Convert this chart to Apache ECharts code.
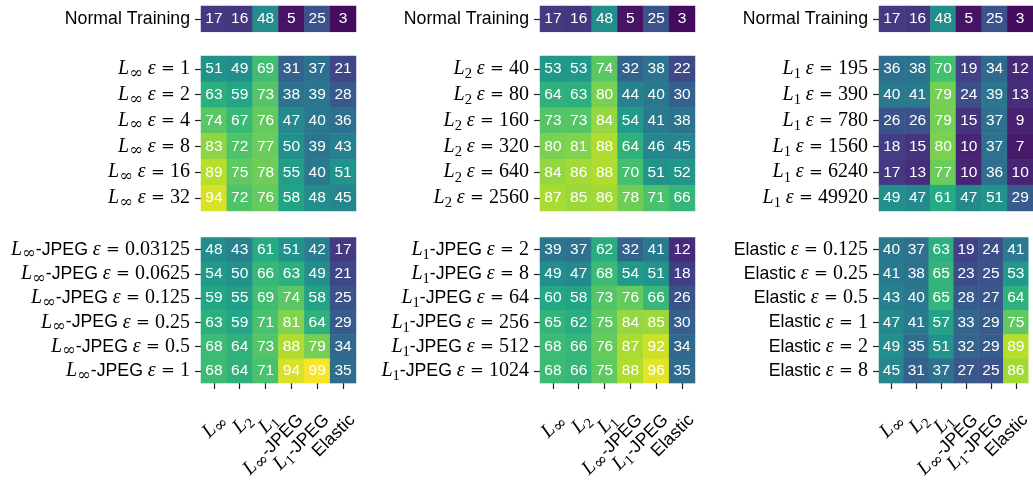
<!DOCTYPE html>
<html>
<head>
<meta charset="utf-8">
<script src="https://cdn.jsdelivr.net/npm/echarts@6/dist/echarts.min.js"></script>
<style>html,body{margin:0;padding:0;background:#fff}#c{width:1033px;height:483px}</style>
</head>
<body>
<div id="c"></div>
<script>
// ---- data ----
const xLabels = ['L_∞', 'L_2', 'L_1', 'L_∞-JPEG', 'L_1-JPEG', 'Elastic'];

const normalLabels = ['Normal Training'];
const normalValues = [[17, 16, 48, 5, 25, 3]];

const linfLabels = ['L_∞ ε = 1', 'L_∞ ε = 2', 'L_∞ ε = 4', 'L_∞ ε = 8', 'L_∞ ε = 16', 'L_∞ ε = 32'];
const linfValues = [
  [51, 49, 69, 31, 37, 21],
  [63, 59, 73, 38, 39, 28],
  [74, 67, 76, 47, 40, 36],
  [83, 72, 77, 50, 39, 43],
  [89, 75, 78, 55, 40, 51],
  [94, 72, 76, 58, 48, 45]
];

const linfJpegLabels = ['L_∞-JPEG ε = 0.03125', 'L_∞-JPEG ε = 0.0625', 'L_∞-JPEG ε = 0.125', 'L_∞-JPEG ε = 0.25', 'L_∞-JPEG ε = 0.5', 'L_∞-JPEG ε = 1'];
const linfJpegValues = [
  [48, 43, 61, 51, 42, 17],
  [54, 50, 66, 63, 49, 21],
  [59, 55, 69, 74, 58, 25],
  [63, 59, 71, 81, 64, 29],
  [68, 64, 73, 88, 79, 34],
  [68, 64, 71, 94, 99, 35]
];

const l2Labels = ['L_2 ε = 40', 'L_2 ε = 80', 'L_2 ε = 160', 'L_2 ε = 320', 'L_2 ε = 640', 'L_2 ε = 2560'];
const l2Values = [
  [53, 53, 74, 32, 38, 22],
  [64, 63, 80, 44, 40, 30],
  [73, 73, 84, 54, 41, 38],
  [80, 81, 88, 64, 46, 45],
  [84, 86, 88, 70, 51, 52],
  [87, 85, 86, 78, 71, 66]
];

const l1JpegLabels = ['L_1-JPEG ε = 2', 'L_1-JPEG ε = 8', 'L_1-JPEG ε = 64', 'L_1-JPEG ε = 256', 'L_1-JPEG ε = 512', 'L_1-JPEG ε = 1024'];
const l1JpegValues = [
  [39, 37, 62, 32, 41, 12],
  [49, 47, 68, 54, 51, 18],
  [60, 58, 73, 76, 66, 26],
  [65, 62, 75, 84, 85, 30],
  [68, 66, 76, 87, 92, 34],
  [68, 66, 75, 88, 96, 35]
];

const l1Labels = ['L_1 ε = 195', 'L_1 ε = 390', 'L_1 ε = 780', 'L_1 ε = 1560', 'L_1 ε = 6240', 'L_1 ε = 49920'];
const l1Values = [
  [36, 38, 70, 19, 34, 12],
  [40, 41, 79, 24, 39, 13],
  [26, 26, 79, 15, 37, 9],
  [18, 15, 80, 10, 37, 7],
  [17, 13, 77, 10, 36, 10],
  [49, 47, 61, 47, 51, 29]
];

const elasticLabels = ['Elastic ε = 0.125', 'Elastic ε = 0.25', 'Elastic ε = 0.5', 'Elastic ε = 1', 'Elastic ε = 2', 'Elastic ε = 8'];
const elasticValues = [
  [40, 37, 63, 19, 24, 41],
  [41, 38, 65, 23, 25, 53],
  [43, 40, 65, 28, 27, 64],
  [47, 41, 57, 33, 29, 75],
  [49, 35, 51, 32, 29, 89],
  [45, 31, 37, 27, 25, 86]
];

const viridis = ['#440154','#482475','#414487','#355f8d','#2a788e','#21918c','#22a884','#44bf70','#7ad151','#bddf26','#fde725'];

// ---- layout ----
const panels = [
  [[normalLabels, normalValues], [linfLabels, linfValues], [linfJpegLabels, linfJpegValues]],
  [[normalLabels, normalValues], [l2Labels, l2Values], [l1JpegLabels, l1JpegValues]],
  [[normalLabels, normalValues], [l1Labels, l1Values], [elasticLabels, elasticValues]]
];
const LEFTS = [201, 540, 879];
const TOPS = [6, 56, 237.5];
const CELL = 25.83;

const LH = 26;
const rich = {
  sf: {fontFamily: 'Liberation Sans', fontSize: 17.7, color: '#000', lineHeight: LH},
  it: {fontFamily: 'Liberation Serif', fontStyle: 'italic', fontSize: 20, color: '#000', lineHeight: LH},
  sub: {fontFamily: 'Liberation Serif', fontSize: 14.5, color: '#000', verticalAlign: 'bottom', lineHeight: 15},
  inf: {fontFamily: 'DejaVu Serif', fontSize: 16.5, color: '#000', verticalAlign: 'bottom', lineHeight: 13},
  ep: {fontFamily: 'Liberation Serif', fontStyle: 'italic', fontSize: 20, color: '#000', lineHeight: LH},
  eq: {fontFamily: 'DejaVu Serif', fontSize: 16.5, color: '#000', lineHeight: LH},
  rm: {fontFamily: 'Liberation Serif', fontSize: 20, color: '#000', lineHeight: LH}
};
function fmt(s) {
  let out = '', after = false, m;
  const re = /L_(∞|1|2)|ε| = |[^Lε]+?(?= = |$|L|ε)/g;
  while ((m = re.exec(s))) {
    const t = m[0];
    if (t === 'ε') { out += '{ep|ε}'; after = true; }
    else if (t === ' = ') { out += '{eq| = }'; }
    else if (t.startsWith('L_')) { out += '{it|L}{' + (m[1] === '∞' ? 'inf' : 'sub') + '|' + m[1] + '}'; }
    else { out += '{' + (after ? 'rm' : 'sf') + '|' + t + '}'; }
  }
  return out;
}

const grid = [], xAxis = [], yAxis = [], series = [];
panels.forEach((col, c) => {
  col.forEach(([labels, values], b) => {
    const gi = grid.length;
    grid.push({left: LEFTS[c], top: TOPS[b], width: CELL * 6, height: CELL * labels.length});
    xAxis.push({
      type: 'category', gridIndex: gi, data: xLabels,
      axisLine: {show: false}, splitLine: {show: false},
      axisTick: {show: b === 2, alignWithLabel: true, length: 6, lineStyle: {color: '#222', width: 1.2}},
      axisLabel: {show: b === 2, rotate: 45, align: 'right', verticalAlign: 'top',
        margin: 25, interval: 0, formatter: fmt, rich: rich}
    });
    yAxis.push({
      type: 'category', gridIndex: gi, data: labels, inverse: true,
      axisLine: {show: false}, splitLine: {show: false},
      axisTick: {show: true, alignWithLabel: true, length: 6, lineStyle: {color: '#222', width: 1.2}},
      axisLabel: {margin: 11, interval: 0, formatter: fmt, rich: rich}
    });
    const data = [];
    values.forEach((row, r) => row.forEach((v, x) => data.push([x, r, v])));
    series.push({
      type: 'heatmap', xAxisIndex: gi, yAxisIndex: gi, data: data,
      itemStyle: {borderWidth: 0},
      label: {show: true, color: '#fff', fontSize: 15.5, fontFamily: 'Liberation Sans', formatter: p => p.value[2]},
      emphasis: {disabled: true}
    });
  });
});

const chart = echarts.init(document.getElementById('c'), null, {renderer: 'canvas'});
chart.setOption({
  animation: false,
  grid, xAxis, yAxis, series,
  visualMap: {type: 'continuous', show: false, min: 0, max: 100, seriesIndex: series.map((s, i) => i), inRange: {color: viridis}}
});
</script>
</body>
</html>
